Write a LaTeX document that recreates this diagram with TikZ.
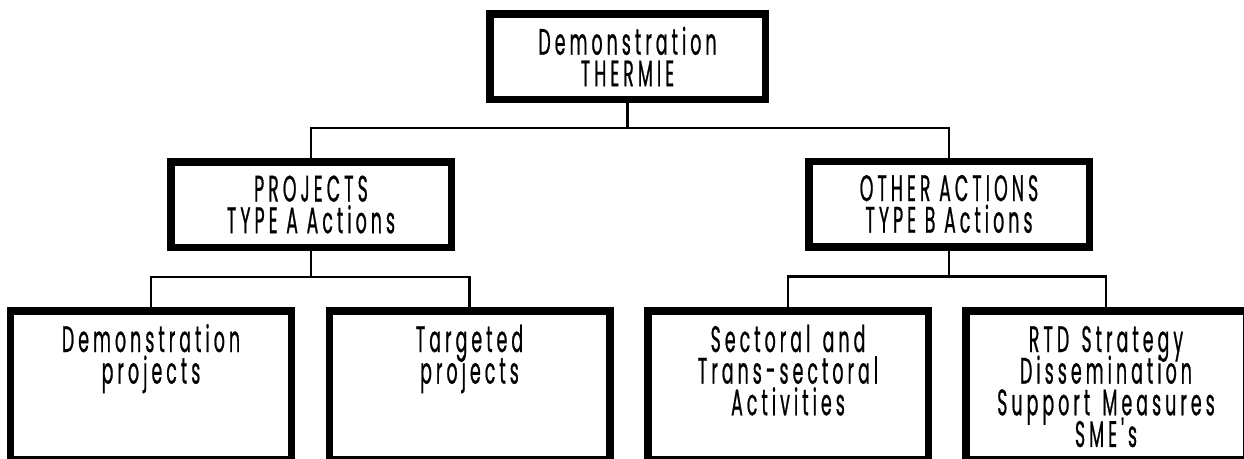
\documentclass[tikz,border=0pt]{standalone}
\usepackage{fontspec}
\newfontfamily\boxfont{Poppins}[FakeStretch=0.47,LetterSpace=11,FakeBold=0.6]
\newcommand\boxtext{\boxfont\fontsize{10.5}{9}\selectfont\lineskiplimit=-10pt\relax}
\usetikzlibrary{positioning,calc}

\begin{document}
\begin{tikzpicture}[
    box/.style={draw, line width=0.075cm, minimum width=2.805cm, minimum height=0.855cm,
      align=center, inner sep=0pt, font=\boxtext},
    leaf/.style={box, anchor=north, text width=2.6cm, text height=0.22cm, text depth=0.8875cm,
      inner xsep=0.1cm, inner ysep=0.1925cm},
    link/.style={line width=0.6pt}]
  \path[use as bounding box, clip] (0,0) rectangle (12.44,-4.58);
  % top level
  \node[box, minimum width=2.755cm] (thermie) at (6.275,-0.565) {Demonstration\\THERMIE};
  % second level
  \node[box] (typeA) at (3.11,-2.045) {PROJECTS\\TYPE A Actions};
  \node[box] (typeB) at (9.49,-2.04) {OTHER ACTIONS\\TYPE B Actions};
  % third level
  \node[leaf] (demo) at (1.51,-3.07) {Demonstration\\projects};
  \node[leaf] (targ) at (4.695,-3.07) {Targeted\\projects};
  \node[leaf] (sect) at (7.88,-3.07) {Sectoral and\\Trans-sectoral\\Activities};
  \node[leaf] (rtd) at (11.06,-3.07) {RTD Strategy\\Dissemination\\Support Measures\\SME's};
  % connectors
  \draw[link] (thermie.south) -- ++(0,-0.25) coordinate (forkT) -| (typeA.north);
  \draw[link] (forkT) -| (typeB.north);
  \draw[link] (typeA.south) -- ++(0,-0.26) coordinate (forkA) -| (demo.north);
  \draw[link] (forkA) -| (targ.north);
  \draw[link] (typeB.south) -- ++(0,-0.26) coordinate (forkB) -| (sect.north);
  \draw[link] (forkB) -| (rtd.north);
\end{tikzpicture}
\end{document}
